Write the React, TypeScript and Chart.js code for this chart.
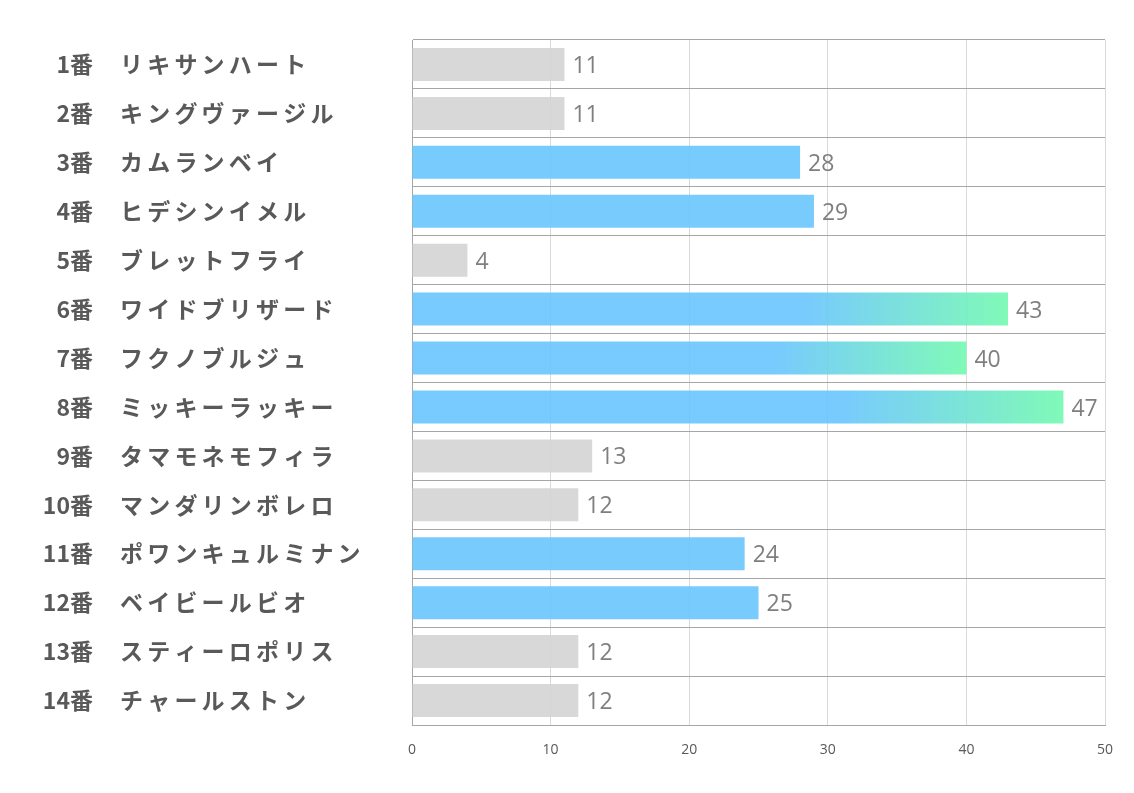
import React, { useEffect, useRef } from "react";
import { Chart, registerables } from "chart.js";

Chart.register(...registerables);

const horseNumbers = ["1番", "2番", "3番", "4番", "5番", "6番", "7番", "8番", "9番", "10番", "11番", "12番", "13番", "14番"];
const horseNames = [
  "リキサンハート",
  "キングヴァージル",
  "カムランベイ",
  "ヒデシンイメル",
  "ブレットフライ",
  "ワイドブリザード",
  "フクノブルジュ",
  "ミッキーラッキー",
  "タマモネモフィラ",
  "マンダリンボレロ",
  "ポワンキュルミナン",
  "ベイビールビオ",
  "スティーロポリス",
  "チャールストン",
];
const scores = [11, 11, 28, 29, 4, 43, 40, 47, 13, 12, 24, 25, 12, 12];
// tier: 0 = gray, 1 = blue, 2 = gradient (top three)
const tiers = [0, 0, 1, 1, 0, 2, 2, 2, 0, 0, 1, 1, 0, 0];
const xTicks = [0, 10, 20, 30, 40, 50];

const GRAY = "rgba(212,212,212,0.9)";
const BLUE = "rgba(105,197,253,0.9)";
const GREEN = "rgba(114,249,176,0.9)";

const labelFont = '"Noto Sans CJK JP", "Noto Sans", sans-serif';
const numFont = '"Open Sans", "Noto Sans", sans-serif';

export default function App() {
  const ref = useRef<HTMLCanvasElement | null>(null);

  useEffect(() => {
    if (!ref.current) return;

    const labelsPlugin = {
      id: "sideLabels",
      afterDraw(chart: any) {
        const ctx = chart.ctx;
        const yScale = chart.scales.y;
        ctx.save();
        ctx.fillStyle = "#595959";
        ctx.textBaseline = "middle";
        horseNumbers.forEach((n, i) => {
          const y = yScale.getPixelForValue(i);
          ctx.font = `bold 23px ${labelFont}`;
          (ctx as any).letterSpacing = "0px";
          ctx.textAlign = "right";
          ctx.fillText(n, 93, y);
          (ctx as any).letterSpacing = "4.2px";
          ctx.textAlign = "left";
          ctx.fillText(horseNames[i], 120, y);
        });
        (ctx as any).letterSpacing = "0px";
        // value labels
        const meta = chart.getDatasetMeta(0);
        ctx.font = `23px ${numFont}`;
        ctx.fillStyle = "#7f7f7f";
        ctx.textAlign = "left";
        meta.data.forEach((bar: any, i: number) => {
          ctx.fillText(String(scores[i]), bar.x + 8, bar.y + 2);
        });
        ctx.restore();
      },
    };

    const chart = new Chart(ref.current, {
      type: "bar",
      data: {
        labels: horseNames,
        datasets: [
          {
            data: scores,
            backgroundColor: (c: any) => {
              const i = c.dataIndex;
              const t = tiers[i];
              if (t === 0) return GRAY;
              if (t === 1) return BLUE;
              const chartObj = c.chart;
              const xs = chartObj.scales.x;
              if (!xs || !chartObj.chartArea) return BLUE;
              const x0 = xs.getPixelForValue(0);
              const x1 = xs.getPixelForValue(scores[i]);
              const g = chartObj.ctx.createLinearGradient(x0, 0, x1, 0);
              g.addColorStop(0, BLUE);
              g.addColorStop(0.66, BLUE);
              g.addColorStop(1, GREEN);
              return g;
            },
            borderWidth: 0,
            barPercentage: 0.675,
            categoryPercentage: 1,
          },
        ],
      },
      options: {
        indexAxis: "y",
        responsive: false,
        animation: false,
        maintainAspectRatio: false,
        layout: { padding: { left: 412, right: 29, top: 40, bottom: 0 } },
        plugins: {
          legend: { display: false },
          tooltip: { enabled: false },
        },
        scales: {
          x: {
            min: 0,
            max: 50,
            afterFit: (s: any) => {
              s.height = 68;
            },
            afterBuildTicks: (s: any) => {
              s.ticks = xTicks.map((v) => ({ value: v }));
            },
            grid: { color: "#d9d9d9", lineWidth: 1, drawTicks: false },
            border: { display: true, color: "#a6a6a6", width: 1 },
            ticks: {
              padding: 17,
              color: "#595959",
              font: { size: 14, family: numFont },
            },
          },
          y: {
            afterFit: (s: any) => {
              s.width = 0;
            },
            grid: { color: "#a6a6a6", lineWidth: 1, drawTicks: false, offset: true },
            border: { display: true, color: "#a6a6a6", width: 1 },
            ticks: { display: false },
          },
        },
      },
      plugins: [labelsPlugin],
    } as any);

    return () => chart.destroy();
  }, []);

  return (
    <div style={{ position: "absolute", left: 0, top: 0, width: 1134, height: 793, background: "#fff" }}>
      <canvas ref={ref} width={1134} height={793} style={{ width: 1134, height: 793, display: "block" }} />
    </div>
  );
}
